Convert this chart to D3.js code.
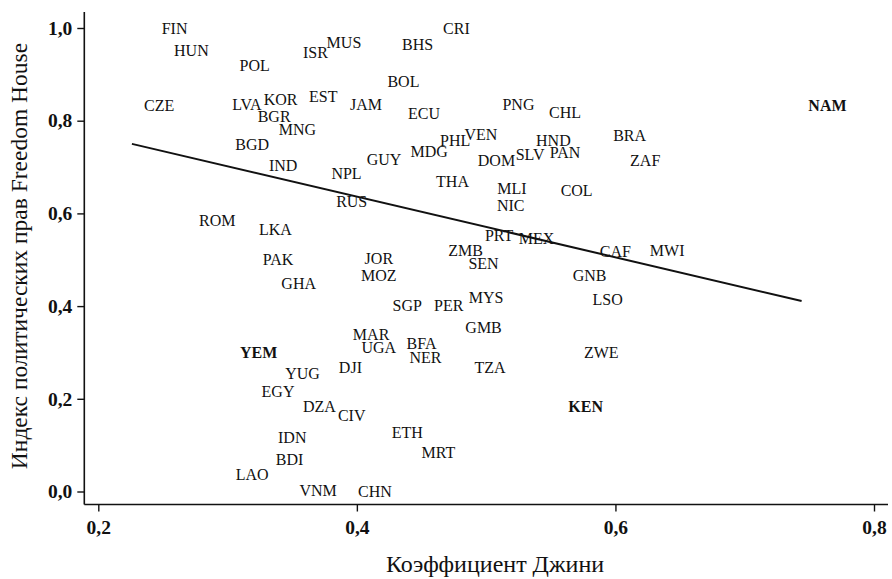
<!DOCTYPE html>
<html>
<head>
<meta charset="utf-8">
<script src="https://cdn.jsdelivr.net/npm/d3@7"></script>
<style>
  html, body { margin: 0; padding: 0; background: #fff; }
  svg { display: block; }
  text { font-family: "Liberation Serif", "DejaVu Serif", serif; fill: #111; }
</style>
</head>
<body>
<svg id="chart" width="892" height="579"></svg>
<script>
// Country codes with Gini coefficient and Freedom House political rights index
const codes = ["FIN","HUN","POL","ISR","MUS","CRI","BHS","BOL","CZE","LVA","KOR","EST","JAM","BGR","MNG","BGD","IND","NPL","GUY","ECU","PNG","CHL","PHL","VEN","MDG","HND","PAN","SLV","DOM","THA","MLI","COL","BRA","ZAF","NAM","RUS","ROM","LKA","PAK","GHA","JOR","MOZ","MAR","UGA","YEM","YUG","DJI","NIC","PRT","MEX","CAF","ZMB","SEN","GNB","SGP","PER","MYS","LSO","GMB","BFA","NER","TZA","ZWE","MWI","EGY","DZA","CIV","IDN","BDI","LAO","VNM","CHN","ETH","MRT","KEN"];
const gini = [0.259,0.272,0.321,0.368,0.390,0.477,0.447,0.436,0.247,0.315,0.341,0.374,0.407,0.336,0.354,0.319,0.343,0.392,0.421,0.452,0.525,0.561,0.476,0.496,0.456,0.552,0.561,0.534,0.508,0.474,0.520,0.570,0.611,0.623,0.764,0.396,0.292,0.337,0.339,0.355,0.417,0.417,0.411,0.417,0.324,0.358,0.395,0.519,0.510,0.539,0.600,0.484,0.498,0.580,0.439,0.471,0.500,0.594,0.498,0.450,0.453,0.503,0.589,0.640,0.339,0.371,0.396,0.350,0.348,0.319,0.370,0.414,0.439,0.463,0.577];
const rights = [1.000,0.952,0.919,0.948,0.968,0.999,0.965,0.884,0.832,0.835,0.845,0.852,0.834,0.809,0.781,0.748,0.704,0.687,0.717,0.816,0.835,0.818,0.758,0.771,0.733,0.757,0.732,0.726,0.715,0.668,0.654,0.650,0.769,0.715,0.832,0.625,0.584,0.566,0.501,0.449,0.502,0.467,0.339,0.311,0.299,0.255,0.268,0.618,0.552,0.546,0.517,0.520,0.491,0.465,0.402,0.401,0.419,0.415,0.353,0.320,0.289,0.267,0.300,0.519,0.215,0.183,0.164,0.117,0.069,0.036,0.002,0.000,0.127,0.084,0.183];
const boldCodes = ["NAM","YEM","KEN"];

// Fitted regression line endpoints (Gini, index)
const fitGini = [0.226, 0.744];
const fitRights = [0.750, 0.411];

const xTicks = [0.2, 0.4, 0.6, 0.8];
const yTicks = [0.0, 0.2, 0.4, 0.6, 0.8, 1.0];
const xTitle = "Коэффициент Джини";
const yTitle = "Индекс политических прав Freedom House";

const svg = d3.select("#chart");

const x = d3.scaleLinear().domain([0.2, 0.8]).range([98.3, 874]);
const y = d3.scaleLinear().domain([0, 1]).range([491.5, 28]);

const axisX = 84.3, axisY = 504.5;
const fmt = v => d3.format(".1f")(v).replace(".", ",");

// X axis
const gx = svg.append("g").attr("transform", `translate(0,${axisY})`)
  .call(d3.axisBottom(x).tickValues(xTicks).tickFormat(fmt).tickSize(7).tickSizeOuter(0).tickPadding(9));
gx.select(".domain").remove();
gx.append("line").attr("x1", axisX).attr("x2", 888).attr("y1", 0).attr("y2", 0)
  .attr("stroke", "#111").attr("stroke-width", 1.6);

// Y axis
const gy = svg.append("g").attr("transform", `translate(${axisX},0)`)
  .call(d3.axisLeft(y).tickValues(yTicks).tickFormat(fmt).tickSize(7).tickSizeOuter(0).tickPadding(5));
gy.select(".domain").remove();
gy.append("line").attr("x1", 0).attr("x2", 0).attr("y1", 12).attr("y2", axisY)
  .attr("stroke", "#111").attr("stroke-width", 1.6);

svg.selectAll(".tick line").attr("stroke", "#111").attr("stroke-width", 1.4);
svg.selectAll(".tick text")
  .style("font-family", '"Liberation Serif", serif')
  .style("font-size", "19.5px").style("font-weight", "bold").attr("fill", "#111");

// Regression line
svg.append("line")
  .attr("x1", x(fitGini[0])).attr("y1", y(fitRights[0]))
  .attr("x2", x(fitGini[1])).attr("y2", y(fitRights[1]))
  .attr("stroke", "#111").attr("stroke-width", 2);

// Country labels
svg.append("g").selectAll("text").data(codes).join("text")
  .attr("x", (d, i) => x(gini[i]))
  .attr("y", (d, i) => y(rights[i]))
  .attr("text-anchor", "middle")
  .attr("dominant-baseline", "central")
  .style("font-size", "16px")
  .style("font-weight", d => boldCodes.includes(d) ? "bold" : "normal")
  .text(d => d);

// Axis titles
svg.append("text").attr("x", 495).attr("y", 572)
  .attr("text-anchor", "middle").style("font-size", "24px").text(xTitle);
svg.append("text")
  .attr("transform", "translate(27,256) rotate(-90)")
  .attr("text-anchor", "middle").style("font-size", "23.5px").text(yTitle);
</script>
</body>
</html>
